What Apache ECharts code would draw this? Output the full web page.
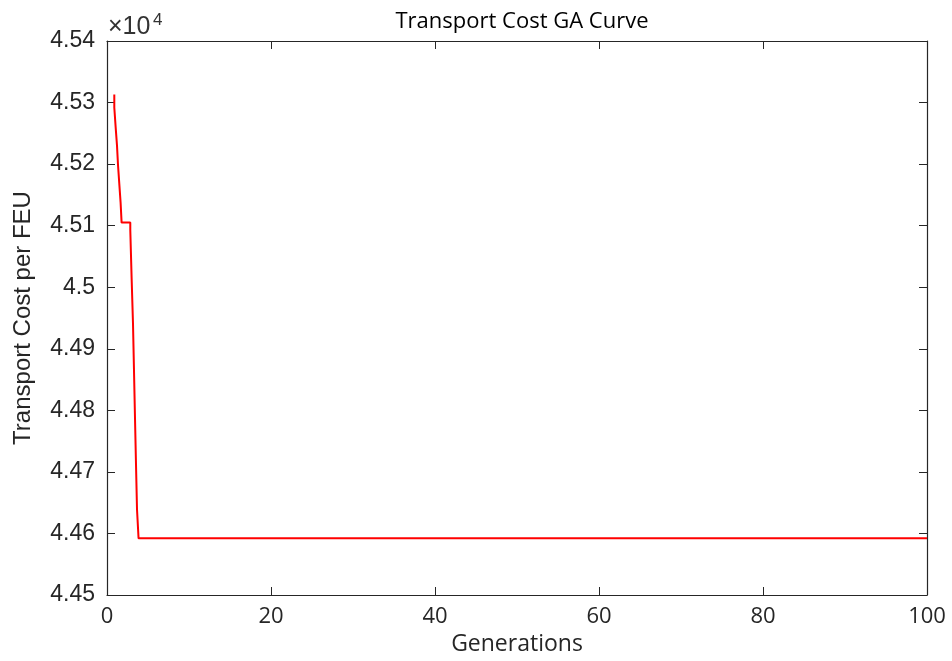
<!DOCTYPE html>
<html>
<head>
<meta charset="utf-8">
<script src="https://cdn.jsdelivr.net/npm/echarts@6/dist/echarts.min.js"></script>
<style>
html,body{margin:0;padding:0;background:#fff;}
#chart{width:952px;height:661px;}
</style>
</head>
<body>
<div id="chart"></div>
<script>
// Data (generation, transport cost per FEU)
const generations = [0.89, 0.89, 1.05, 1.22, 1.34, 1.50, 1.66, 1.78, 2.84, 3.00, 3.17, 3.29, 3.41, 3.53, 3.66, 3.85, 100];
const costs = [45313, 45292, 45261, 45230, 45199, 45168, 45137, 45105, 45093, 45016, 44941, 44866, 44790, 44716, 44639, 44592, 44592];
const xTicks = [0, 20, 40, 60, 80, 100];
const yTicks = [44500, 44600, 44700, 44800, 44900, 45000, 45100, 45200, 45300, 45400];
const titleText = 'Transport Cost GA Curve';
const xName = 'Generations';
const yName = 'Transport Cost per FEU';
const exponentBase = '×10';
const exponentPower = '4';

const seriesData = generations.map((g, i) => [g, costs[i]]);

const axisColor = '#262626';
const xMin = xTicks[0], xMax = xTicks[xTicks.length - 1], xInt = xTicks[1] - xTicks[0];
const yMin = yTicks[0], yMax = yTicks[yTicks.length - 1], yInt = yTicks[1] - yTicks[0];

const chart = echarts.init(document.getElementById('chart'), null, {renderer: 'canvas'});
const hiddenLabels = {show: false};
chart.setOption({
  backgroundColor: '#ffffff',
  animation: false,
  title: {
    text: titleText,
    left: 517, top: 6, textAlign: 'center',
    textStyle: {fontFamily: 'Open Sans', fontSize: 22, fontWeight: 'normal', color: '#000'}
  },
  graphic: [{
    type: 'text', left: 108, top: 15, z: 10,
    style: {text: exponentBase, fontSize: 25, fontFamily: 'Liberation Sans', fill: '#333'}
  }, {
    type: 'text', left: 153, top: 12, z: 10,
    style: {text: exponentPower, fontSize: 17, fontFamily: 'Liberation Sans', fill: '#333'}
  }],
  grid: {left: 107, right: 25, top: 41, bottom: 60, containLabel: false},
  xAxis: [{
    type: 'value', min: xMin, max: xMax, interval: xInt,
    position: 'bottom',
    name: xName, nameLocation: 'middle', nameGap: 38,
    nameTextStyle: {fontFamily: 'Open Sans', fontSize: 23, color: axisColor},
    axisLine: {show: true, onZero: false, lineStyle: {color: axisColor, width: 1.2}},
    axisTick: {show: true, inside: true, length: 8, lineStyle: {color: axisColor}},
    axisLabel: {margin: 11, fontFamily: 'Open Sans', fontSize: 22, color: axisColor},
    splitLine: {show: false}
  }, {
    type: 'value', min: xMin, max: xMax, interval: xInt,
    position: 'top',
    axisLine: {show: true, onZero: false, lineStyle: {color: axisColor, width: 1.2}},
    axisTick: {show: true, inside: true, length: 8, lineStyle: {color: axisColor}},
    axisLabel: hiddenLabels,
    splitLine: {show: false}
  }],
  yAxis: [{
    type: 'value', min: yMin, max: yMax, interval: yInt,
    position: 'left',
    name: yName, nameLocation: 'middle', nameGap: 72, nameRotate: 90,
    nameTextStyle: {fontFamily: 'Liberation Sans', fontSize: 24, color: axisColor},
    axisLine: {show: true, onZero: false, lineStyle: {color: axisColor, width: 1.2}},
    axisTick: {show: true, inside: true, length: 8, lineStyle: {color: axisColor}},
    axisLabel: {
      margin: 12, fontFamily: 'Liberation Sans', fontSize: 23, color: axisColor,
      formatter: v => String(+(v / 10000).toFixed(2))
    },
    splitLine: {show: false}
  }, {
    type: 'value', min: yMin, max: yMax, interval: yInt,
    position: 'right',
    axisLine: {show: true, onZero: false, lineStyle: {color: axisColor, width: 1.2}},
    axisTick: {show: true, inside: true, length: 8, lineStyle: {color: axisColor}},
    axisLabel: hiddenLabels,
    splitLine: {show: false}
  }],
  series: [{
    type: 'line',
    xAxisIndex: 0, yAxisIndex: 0,
    data: seriesData,
    step: 'end',
    showSymbol: false,
    symbol: 'none',
    lineStyle: {color: '#ff0000', width: 2},
    itemStyle: {color: '#ff0000'},
    z: 3
  }]
});
</script>
</body>
</html>
